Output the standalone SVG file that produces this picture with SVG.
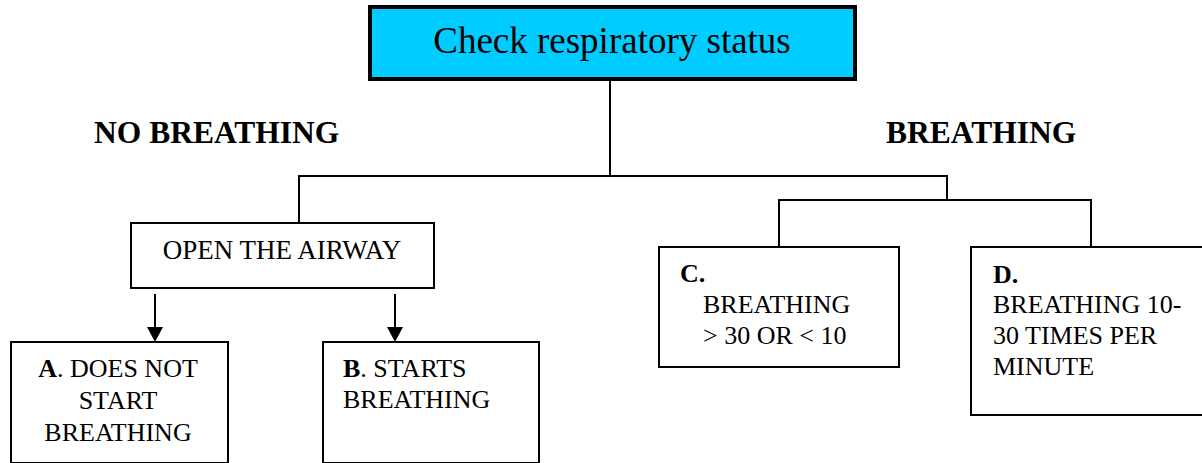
<svg xmlns="http://www.w3.org/2000/svg" width="1202" height="463" viewBox="0 0 1202 463">
<style>
.box{fill:#fff;stroke:#000;stroke-width:2}
.ln{fill:none;stroke:#000;stroke-width:2}
text{font-family:"Liberation Serif","Times New Roman",serif;fill:#000}
.t{font-size:26px}
.h{font-size:31.5px;font-weight:bold}
.b{font-weight:bold}
</style>
<rect width="1202" height="463" fill="#fff"/>
<g id="connectors">
<path class="ln" d="M610,79 V176"/>
<path class="ln" d="M299,223 V176 H947 V200"/>
<path class="ln" d="M779,247 V200 H1091 V247"/>
<path d="M155,294 V328" class="ln"/>
<path d="M147,327 L163,327 L155,342 Z" fill="#000"/>
<path d="M395,294 V328" class="ln"/>
<path d="M387,327 L403,327 L395,342 Z" fill="#000"/>
</g>
<g id="top">
<rect x="370" y="7" width="485" height="72" fill="#00CCFF" stroke="#000" stroke-width="4"/>
<text x="612" y="53" text-anchor="middle" style="font-size:37px">Check respiratory status</text>
</g>
<g id="label-no">
<text class="h" x="94" y="143">NO BREATHING</text>
</g>
<g id="label-yes">
<text class="h" x="886" y="143">BREATHING</text>
</g>
<g id="open">
<rect class="box" x="131" y="223" width="303" height="65"/>
<text class="t" x="282" y="259" text-anchor="middle" style="font-size:27px">OPEN THE AIRWAY</text>
</g>
<g id="nodeA">
<rect class="box" x="11" y="342" width="217" height="121"/>
<text class="t" x="118" y="377" text-anchor="middle"><tspan class="b">A</tspan>. DOES NOT</text>
<text class="t" x="118" y="409" text-anchor="middle">START</text>
<text class="t" x="118" y="441" text-anchor="middle">BREATHING</text>
</g>
<g id="nodeB">
<rect class="box" x="323" y="342" width="216" height="121"/>
<text class="t" x="343" y="377"><tspan class="b">B</tspan>. STARTS</text>
<text class="t" x="343" y="408">BREATHING</text>
</g>
<g id="nodeC">
<rect class="box" x="659" y="247" width="240" height="120"/>
<text class="t b" x="680" y="282">C.</text>
<text class="t" x="703" y="313">BREATHING</text>
<text class="t" x="703" y="344">&gt; 30 OR &lt; 10</text>
</g>
<g id="nodeD">
<rect class="box" x="971" y="247" width="240" height="168"/>
<text class="t b" x="993" y="283">D.</text>
<text class="t" x="993" y="313">BREATHING 10-</text>
<text class="t" x="993" y="344">30 TIMES PER</text>
<text class="t" x="993" y="375">MINUTE</text>
</g>
</svg>
